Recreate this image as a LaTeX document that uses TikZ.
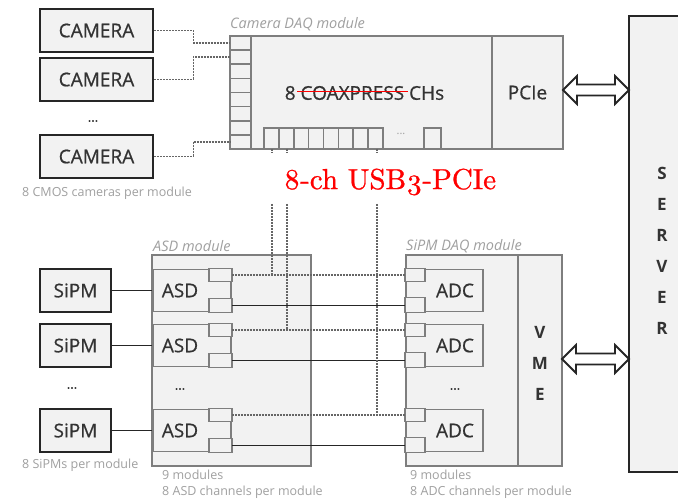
\documentclass[tikz,border=0pt]{standalone}
\usepackage{fontspec}
\setmainfont{Open Sans}
\newfontfamily\heavy{Open Sans}[FakeBold=0.7]
\newfontfamily\redserif{lmroman10-regular.otf}[Numbers=OldStyle,FakeBold=0.9]
\usetikzlibrary{calc}
\definecolor{boxfill}{HTML}{F2F2F2}
\definecolor{modline}{HTML}{7E7E7E}
\definecolor{darkline}{HTML}{262626}
\definecolor{txt}{HTML}{333333}
\definecolor{lbl}{HTML}{A0A0A0}
\definecolor{dotc}{HTML}{666666}
\newcommand\dblarrow[3]{\draw[barrow] (#1,#3) -- ({#1+14},{#3-14}) -- ({#1+14},{#3-5.5}) -- ({#2-14},{#3-5.5}) -- ({#2-14},{#3-14}) -- (#2,#3) -- ({#2-14},{#3+14}) -- ({#2-14},{#3+5.5}) -- ({#1+14},{#3+5.5}) -- ({#1+14},{#3+14}) -- cycle;}
\begin{document}
\begin{tikzpicture}[x=1pt,y=-1pt,
  dev/.style={draw=darkline, line width=2.6pt, fill=boxfill, inner sep=0pt, font=\heavy\fontsize{19}{19}\selectfont, text=txt},
  mod/.style={draw=modline, line width=2.2pt, fill=boxfill, inner sep=0pt},
  sub/.style={draw=modline, line width=1.8pt, fill=boxfill, inner sep=0pt},
  cell/.style={draw=modline, line width=1.7pt, fill=boxfill},
  tx/.style={text=txt, inner sep=0pt, font=\heavy\fontsize{19}{19}\selectfont},
  btx/.style={text=txt, inner sep=0pt, align=center, font=\bfseries\fontsize{17}{31}\selectfont},
  dotl/.style={draw=dotc, line width=1.4pt, dash pattern=on 2pt off 1pt},
  wire/.style={draw=darkline, line width=1.2pt},
  lab/.style={text=lbl, font=\fontsize{12.5}{12.5}\selectfont, inner sep=0pt, anchor=west},
  modlab/.style={text=lbl, font=\itshape\fontsize{14.5}{14.5}\selectfont, inner sep=0pt, anchor=west},
  dots/.style={text=txt, font=\heavy\fontsize{13}{13}\selectfont, inner sep=0pt},
  barrow/.style={draw=darkline, line width=1.8pt, fill=white, line join=miter},
]
\fill[white] (0,0) rectangle (678,500);
\clip (0,0) rectangle (678,500);

% ---------- Cameras ----------
\node[dev, minimum width=113, minimum height=43] (cam1) at (96.5,30.5) {CAMERA};
\node[dev, minimum width=113, minimum height=43] (cam2) at (96.5,79.5) {CAMERA};
\node[dev, minimum width=113, minimum height=43] (cam3) at (96.5,156.5) {CAMERA};
\node[dots] (camdots) at (93,121) {...};
\node[lab] (camlab) at (22,193) {8 CMOS cameras per module};

% ---------- Camera DAQ module ----------
\node[mod, minimum width=333, minimum height=113] (camdaq) at (396.5,92.5) {};
\node[modlab] (camdaqlab) at (230,24) {Camera DAQ module};
\node[minimum width=71, minimum height=113, inner sep=0pt] (pcie) at (527.5,92.5) {};
\draw[draw=modline, line width=2.2pt] (pcie.north west) -- (pcie.south west);
\node[tx] (pcietxt) at (pcie.center) {PCIe};
\foreach \i in {0,...,7} {
  \draw[cell] (230,{36+\i*14.125}) rectangle ++(21,14.125);
  \coordinate (cl\i) at (230,{36+(\i+0.5)*14.125});
}
\foreach \i in {0,...,7} {
  \draw[cell] ({264+\i*14.875},128) rectangle ++(14.875,21);
}
\draw[cell] (424,128) rectangle (441,149);
\node[text=lbl, font=\fontsize{11}{11}\selectfont, inner sep=0pt] (celldots) at (401,134) {...};
\node[tx] (coax) at (364.5,93) {8 COAXPRESS CHs};
\draw[red, line width=1.6pt] (297,91.5) -- (408,91.5);
\node[text=red, inner sep=0pt, font=\redserif\fontsize{29}{29}\selectfont] (usb) at (390,182) {8-ch USB3-PCIe};

% camera connectors
\draw[dotl] (cam1.east) -- ++(39,0) |- (cl0);
\draw[dotl] (cam2.east) -- ++(39,0) |- (cl1);
\draw[dotl] (cam3.east) -- ++(39,0) |- (cl7);

% ---------- Server ----------
\node[draw=darkline, line width=2.6pt, fill=boxfill, minimum width=70, minimum height=456, inner sep=0pt] (server) at (664,244) {};
\node[btx] (servertxt) at (662,250.5) {S\\E\\R\\V\\E\\R};

% ---------- SiPMs ----------
\node[dev, minimum width=71, minimum height=43] (sipm1) at (75.5,290.5) {SiPM};
\node[dev, minimum width=71, minimum height=43] (sipm2) at (75.5,345.5) {SiPM};
\node[dev, minimum width=71, minimum height=43] (sipm3) at (75.5,430.5) {SiPM};
\node[dots] (sipmdots) at (72,388) {...};
\node[lab] (sipmlab) at (22,465) {8 SiPMs per module};

% ---------- ASD module ----------
\node[mod, minimum width=159, minimum height=211] (asdmod) at (231.5,360.5) {};
\node[modlab] (asdlab) at (153,246) {ASD module};
\foreach \n/\y in {1/290.5, 2/345.5, 3/430.5} {
  \node[sub, minimum width=78, minimum height=42] (asd\n) at (192,\y) {};
  \draw[cell] ($(asd\n.north east)+(-23,0)$) rectangle ++(23,13);
  \draw[cell] ($(asd\n.south east)+(-23,-14)$) rectangle ++(23,14);
  \node[tx] (asdt\n) at (180,\y) {ASD};
}
\node[dots] (asddots) at (180,389) {...};
\node[lab] (asdlab1) at (162,475) {9 modules};
\node[lab] (asdlab2) at (162,492) {8 ASD channels per module};

% ---------- SiPM DAQ module ----------
\node[mod, minimum width=156, minimum height=211] (sdaq) at (484,360.5) {};
\node[modlab] (sdaqlab) at (406,246) {SiPM DAQ module};
\node[minimum width=44, minimum height=211, inner sep=0pt] (vme) at (540,360.5) {};
\draw[draw=modline, line width=2.2pt] (vme.north west) -- (vme.south west);
\node[btx] (vmetxt) at (540,363) {V\\M\\E};
\foreach \n/\y in {1/290.5, 2/345.5, 3/430.5} {
  \node[sub, minimum width=77, minimum height=42] (adc\n) at (444.5,\y) {};
  \draw[cell] (adc\n.north west) rectangle ++(20,13);
  \draw[cell] ($(adc\n.south west)+(0,-15)$) rectangle ++(20,15);
  \node[tx] (adct\n) at (455,\y) {ADC};
}
\node[dots] (adcdots) at (455,389) {...};
\node[lab] (sdaqlab1) at (410,475) {9 modules};
\node[lab] (sdaqlab2) at (410,492) {8 ADC channels per module};

% ---------- connectors ----------
\foreach \n in {1,2,3} {
  \draw[wire] (sipm\n.east) -- (asd\n.west);
  \coordinate (at\n) at ($(asd\n.north east)+(0,6.5)$);
  \coordinate (ab\n) at ($(asd\n.south east)+(0,-7)$);
  \draw[dotl] (at\n) -- (at\n -| adc\n.west);
  \draw[wire] (ab\n) -- (ab\n -| adc\n.west);
}
\coordinate (v1) at (272,149);
\coordinate (v2) at (287,149);
\coordinate (v3) at (377,149);
\foreach \v/\n in {v1/1, v2/2, v3/3} {
  \draw[dotl] (\v) -- ++(0,4);
  \draw[dotl] ($(\v)+(0,55)$) -- (\v |- at\n);
}

% block arrows
\dblarrow{563}{629}{90}
\dblarrow{562}{629}{359}
\end{tikzpicture}
\end{document}
